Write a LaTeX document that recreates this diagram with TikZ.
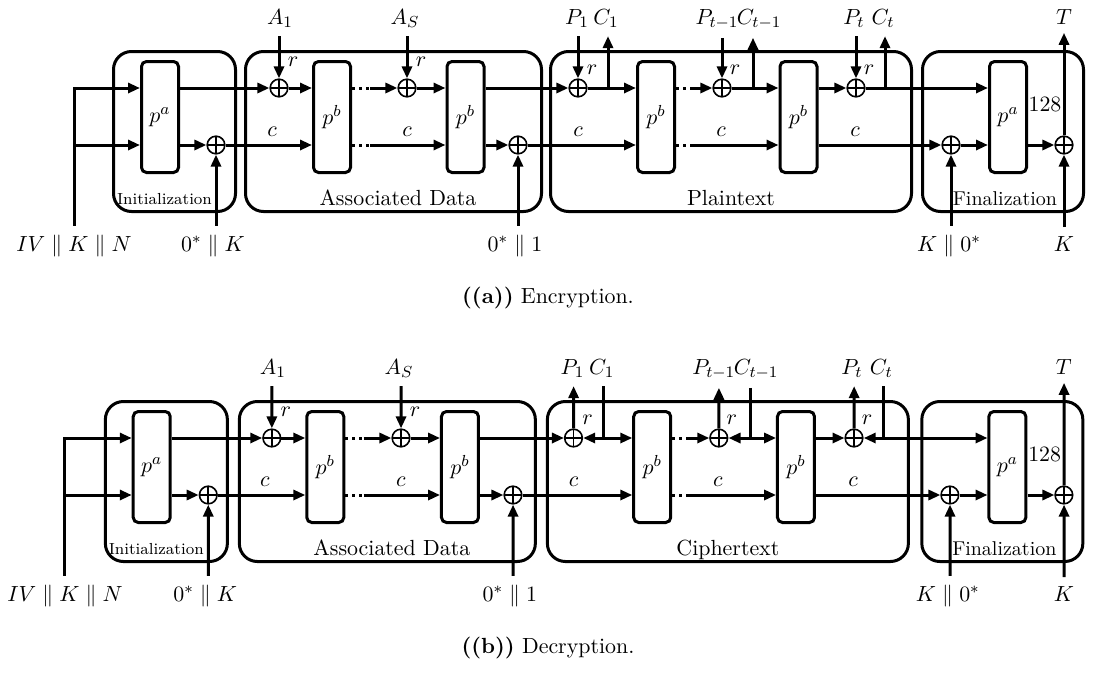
\documentclass[tikz,border=0pt,11pt]{standalone}
\usetikzlibrary{arrows.meta}
\begin{document}
\begin{tikzpicture}[x=0.5pt, y=-0.5pt, line width=1.5pt,
    >={Triangle[length=6pt,width=5pt]},
    modebox/.style={draw, rounded corners=9pt, minimum height=80pt, inner sep=0pt},
    perm/.style={draw, rounded corners=2.5pt, minimum width=18.5pt, minimum height=55.5pt, inner sep=0pt},
    xor/.style={draw, circle, line width=0.8pt, minimum size=8.8pt, inner sep=0pt,
        path picture={\draw[line width=0.8pt] (path picture bounding box.north) -- (path picture bounding box.south)
            (path picture bounding box.west) -- (path picture bounding box.east);}},
    dots/.style={dash pattern=on 1.5pt off 2pt},
    lbl/.style={anchor=base}]
\useasboundingbox (0,0) rectangle (1093,686);

\foreach \m/\yo/\sx/\dx/\msg in {e/0/1/0/Plaintext, d/350/1.009/-9.7/Ciphertext}{
\begin{scope}[name prefix=\m-, shift={(\dx,\yo)}, xscale=\sx]
    % stages
    \node[modebox, minimum width=61pt] (init) at (174.5,131.5) {};
    \node[modebox, minimum width=148pt] (ad) at (393.5,131.5) {};
    \node[modebox, minimum width=180.5pt] (msg) at (731,131.5) {};
    \node[modebox, minimum width=80.5pt] (fin) at (1003,131.5) {};
    \node[lbl, font=\scriptsize] (initlbl) at (164.5,204) {Initialization};
    \node[lbl] (adlbl) at (398,205) {Associated Data};
    \node[lbl] (msglbl) at (731,205) {\msg};
    \node[lbl, font=\small] (finlbl) at (1005,205) {Finalization};

    % permutations
    \node[perm] (pa1) at (160,117) {$p^a$};
    \node[perm] (pb1) at (332,117) {$p^b$};
    \node[perm] (pb2) at (465.5,117) {$p^b$};
    \node[perm] (pb3) at (656,117) {$p^b$};
    \node[perm] (pb4) at (798.5,117) {$p^b$};
    \node[perm] (pa2) at (1008,117) {$p^a$};

    % xors
    \node[xor] (xi) at (216,145) {};
    \node[xor] (xa1) at (279,88) {};
    \node[xor] (xas) at (407,88) {};
    \node[xor] (xad) at (518,145) {};
    \node[xor] (xm1) at (578,88) {};
    \node[xor] (xmt1) at (722,88) {};
    \node[xor] (xmt) at (856,88) {};
    \node[xor] (xf1) at (951,145) {};
    \node[xor] (xf2) at (1064,145) {};

    % inputs and outputs
    \node[lbl] (ivkn) at (74,251) {$IV \parallel K \parallel N$};
    \node[lbl] (zk) at (213,251) {$0^* \parallel K$};
    \node[lbl] (zone) at (515,251) {$0^* \parallel 1$};
    \node[lbl] (kz) at (949,251) {$K \parallel 0^*$};
    \node[lbl] (key) at (1064,251) {$K$};
    \node[lbl] (a1) at (280,24) {$A_1$};
    \node[lbl] (as) at (405,24) {$A_S$};
    \node[lbl] (p1) at (577,24) {$P_1$};
    \node[lbl] (c1) at (606,24) {$C_1$};
    \node[lbl] (pt1) at (717,24) {$P_{t-1}$};
    \node[lbl] (ct1) at (759,24) {$C_{t-1}$};
    \node[lbl] (pt) at (854,24) {$P_t$};
    \node[lbl] (ct) at (883,24) {$C_t$};
    \node[lbl] (tag) at (1064,24) {$T$};
    \node (n128) at (1045,104) {128};

    % rate and capacity
    \node (r1) at (293,62) {$r$};
    \node (r2) at (421,62) {$r$};
    \node (r3) at (592,70) {$r$};
    \node (r4) at (735,70) {$r$};
    \node (r5) at (869,70) {$r$};
    \node (cl1) at (272,132) {$c$};
    \node (cl2) at (407,132) {$c$};
    \node (cl3) at (578,132) {$c$};
    \node (cl4) at (721,132) {$c$};
    \node (cl5) at (855,132) {$c$};

    \coordinate (in) at (74,88);
    \coordinate (tc1) at (608,88);
    \coordinate (tct1) at (753,88);
    \coordinate (tct) at (885,88);
    \coordinate (da) at (370,88);
    \coordinate (db) at (370,145);
    \coordinate (dc) at (691,88);
    \coordinate (dd) at (691,145);

    % initialization
    \draw[->] (in |- ivkn.north) -- (in) -- (pa1.west |- in);
    \draw[->] (in |- xi) -- (pa1.west |- xi);
    \draw[->] (pa1.east |- xi) -- (xi);
    \draw[->] (xi |- zk.north) -- (xi);
    \draw[->] (pa1.east |- xa1) -- (xa1);
    \draw[->] (xi) -- (pb1.west |- xi);

    % associated data
    \draw[->] (xa1 |- a1.south) -- (xa1);
    \draw[->] (xa1) -- (pb1.west |- xa1);
    \draw[dots] (pb1.east |- da) -- (da);
    \draw[dots] (pb1.east |- db) -- (db);
    \draw[->] (da) -- (xas);
    \draw[->] (db) -- (pb2.west |- db);
    \draw[->] (xas |- as.south) -- (xas);
    \draw[->] (xas) -- (pb2.west |- xas);
    \draw[->] (pb2.east |- xm1) -- (xm1);
    \draw[->] (pb2.east |- xad) -- (xad);
    \draw[->] (xad |- zone.north) -- (xad);
    \draw[->] (xad) -- (pb3.west |- xad);

    % message blocks
    \draw[dots] (pb3.east |- dc) -- (dc);
    \draw[dots] (pb3.east |- dd) -- (dd);
    \draw[->] (dc) -- (xmt1);
    \draw[->] (dd) -- (pb4.west |- dd);
    \draw[->] (pb4.east |- xmt) -- (xmt);
    \draw[->] (pb4.east |- xf1) -- (xf1);
    \if\m e
        \draw[->] (xm1 |- p1.south) -- (xm1);
        \draw[->] (xm1) -- (pb3.west |- xm1);
        \draw[->] (tc1) -- (tc1 |- c1.south);
        \draw[->] (xmt1 |- pt1.south) -- (xmt1);
        \draw[->] (xmt1) -- (pb4.west |- xmt1);
        \draw[->] (tct1) -- (tct1 |- ct1.south);
        \draw[->] (xmt |- pt.south) -- (xmt);
        \draw[->] (xmt) -- (pa2.west |- xmt);
        \draw[->] (tct) -- (tct |- ct.south);
    \else
        \draw[->] (xm1) -- (xm1 |- p1.south);
        \draw (tc1 |- c1.south) -- (tc1);
        \draw[->] (tc1) -- (xm1);
        \draw[->] (tc1) -- (pb3.west |- tc1);
        \draw[->] (xmt1) -- (xmt1 |- pt1.south);
        \draw (tct1 |- ct1.south) -- (tct1);
        \draw[->] (tct1) -- (xmt1);
        \draw[->] (tct1) -- (pb4.west |- tct1);
        \draw[->] (xmt) -- (xmt |- pt.south);
        \draw (tct |- ct.south) -- (tct);
        \draw[->] (tct) -- (xmt);
        \draw[->] (tct) -- (pa2.west |- tct);
    \fi

    % finalization
    \draw[->] (xf1 |- kz.north) -- (xf1);
    \draw[->] (xf1) -- (pa2.west |- xf1);
    \draw[->] (pa2.east |- xf2) -- (xf2);
    \draw[->] (xf2 |- key.north) -- (xf2);
    \draw[->] (xf2) -- (xf2 |- tag.south);
\end{scope}
}

\node (capa) at (548,298) {\textbf{((a))} Encryption.};
\node (capb) at (548,648) {\textbf{((b))} Decryption.};
\end{tikzpicture}
\end{document}
